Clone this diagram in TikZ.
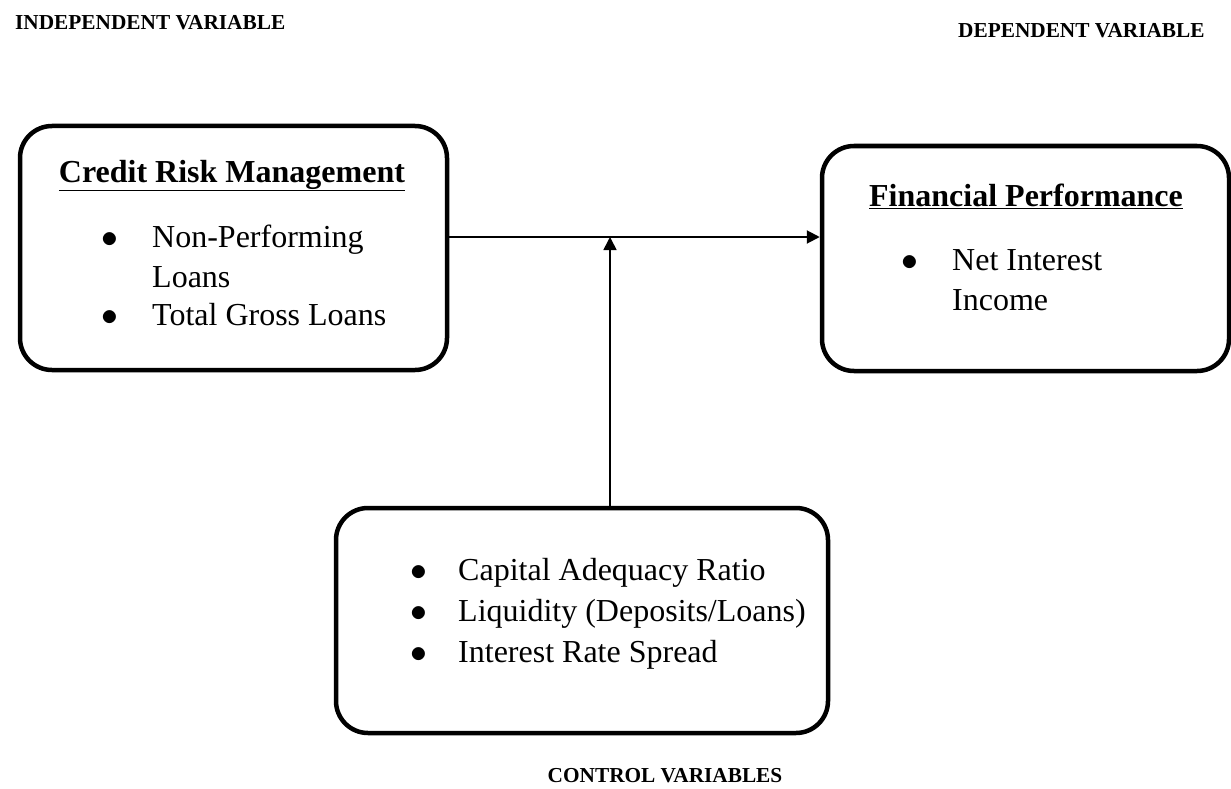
\documentclass[tikz,border=0pt]{standalone}
\usepackage{graphicx}
\usepackage{fontspec}
\setmainfont{Liberation Serif}
\usetikzlibrary{arrows.meta}
\newcommand{\bodyfont}{\fontsize{32}{40}\selectfont}
\newcommand{\titlefont}{\fontsize{21.3}{26}\selectfont\bfseries}
\newcommand{\bigdot}{\scalebox{1.35}{$\bullet$}}
\begin{document}
\begin{tikzpicture}[x=1pt, y=-1pt,
  box/.style={draw, line width=4.5pt, rounded corners=32pt, inner sep=0pt},
  txt/.style={anchor=base west, inner sep=0pt, font=\bodyfont},
  dot/.style={anchor=base, inner sep=0pt, font=\bodyfont},
  head/.style={anchor=base, inner sep=0pt, font=\bodyfont\bfseries},
  title/.style={anchor=base west, inner sep=0pt, font=\titlefont},
  arr/.style={-{Triangle[length=13pt,width=13pt]}}]
\useasboundingbox (0,0) rectangle (1231,789);
% titles
\node[title] (T_ind) at (15,30) {INDEPENDENT VARIABLE};
\node[title] (T_dep) at (958,38) {DEPENDENT VARIABLE};
\node[title,anchor=base] (T_ctl) at (665,782) {CONTROL VARIABLES};
% boxes
\node[box, minimum width=427pt, minimum height=244pt] (B_crm) at (233.5,248) {};
\node[box, minimum width=407pt, minimum height=225pt] (B_fp) at (1025.5,258.5) {};
\node[box, minimum width=492pt, minimum height=225pt] (B_ctl) at (582,620.5) {};
% credit risk management
\node[head] (H_crm) at (232,182) {\underline{Credit Risk Management}};
\node[dot] (D_crm1) at (110,247) {\bigdot};
\node[txt] (L_crm1) at (152,247) {Non-Performing};
\node[txt] (L_crm2) at (152,287) {Loans};
\node[dot] (D_crm2) at (110,325) {\bigdot};
\node[txt] (L_crm3) at (152,325) {Total Gross Loans};
% financial performance
\node[head] (H_fp) at (1026,206) {\underline{Financial Performance}};
\node[dot] (D_fp1) at (910,270) {\bigdot};
\node[txt] (L_fp1) at (952,270) {Net Interest};
\node[txt] (L_fp2) at (952,310) {Income};
% control variables
\node[dot] (D_ctl1) at (419,580) {\bigdot};
\node[txt] (L_ctl1) at (458,580) {Capital Adequacy Ratio};
\node[dot] (D_ctl2) at (419,621) {\bigdot};
\node[txt] (L_ctl2) at (458,621) {Liquidity (Deposits/Loans)};
\node[dot] (D_ctl3) at (419,662) {\bigdot};
\node[txt] (L_ctl3) at (458,662) {Interest Rate Spread};
% arrows
\coordinate (J) at (610,237);
\draw[arr, line width=2pt] (J -| B_crm.east) -- (J -| B_fp.west);
\draw[arr, line width=1.6pt] (B_ctl.north -| J) -- (J);
\end{tikzpicture}
\end{document}
